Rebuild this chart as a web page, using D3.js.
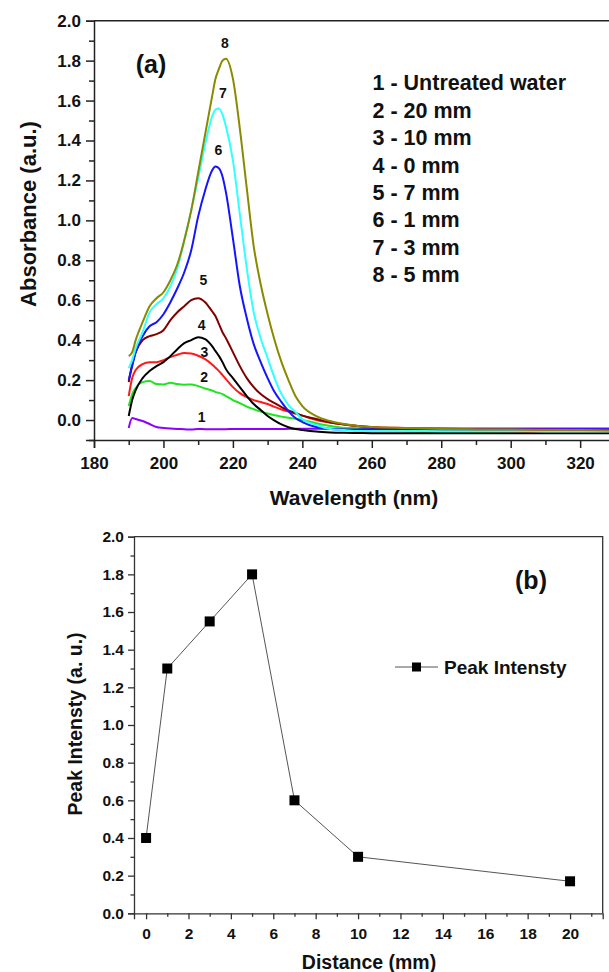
<!DOCTYPE html>
<html>
<head>
<meta charset="utf-8">
<script src="https://cdn.jsdelivr.net/npm/d3@7/dist/d3.min.js"></script>
<style>
  html, body { margin: 0; padding: 0; background: #fff; overflow: hidden; }
  svg { display: block; font-family: "Liberation Sans", Arial, sans-serif; }
</style>
</head>
<body>
<script>
// ---------- DATA: panel (a) ----------
const wavelength = [190,191,192,194,196,198,200,202,204,206,208,210,212,214,215,216,217,218,220,222,224,226,228,230,232,234,236,238,240,244,248,252,256,260,270,280,290,300,310,320,330,340];

const s1_untreated = [-0.04,0.01,0.005,-0.005,-0.02,-0.035,-0.04,-0.043,-0.045,-0.046,-0.048,-0.045,-0.046,-0.046,-0.046,-0.046,-0.046,-0.046,-0.045,-0.045,-0.045,-0.045,-0.045,-0.045,-0.045,-0.045,-0.044,-0.044,-0.044,-0.044,-0.044,-0.043,-0.043,-0.043,-0.043,-0.042,-0.042,-0.042,-0.042,-0.042,-0.042,-0.042];
const s2_20mm = [0.07,0.13,0.16,0.19,0.195,0.18,0.178,0.187,0.18,0.177,0.178,0.17,0.158,0.148,0.14,0.136,0.13,0.12,0.10,0.085,0.067,0.054,0.042,0.033,0.024,0.017,0.011,0.006,0.0,-0.016,-0.03,-0.04,-0.046,-0.05,-0.056,-0.06,-0.062,-0.062,-0.063,-0.063,-0.063,-0.063];
const s3_10mm = [0.12,0.21,0.25,0.28,0.29,0.29,0.30,0.315,0.327,0.336,0.333,0.322,0.305,0.278,0.262,0.245,0.225,0.205,0.165,0.135,0.115,0.10,0.09,0.08,0.066,0.053,0.042,0.032,0.022,0.0,-0.012,-0.022,-0.03,-0.035,-0.04,-0.043,-0.045,-0.047,-0.048,-0.05,-0.05,-0.05];
const s4_0mm = [0.02,0.10,0.15,0.21,0.245,0.27,0.29,0.32,0.355,0.385,0.40,0.415,0.405,0.37,0.345,0.32,0.29,0.255,0.21,0.165,0.12,0.08,0.05,0.02,-0.003,-0.022,-0.036,-0.045,-0.05,-0.058,-0.062,-0.064,-0.065,-0.066,-0.066,-0.066,-0.066,-0.066,-0.066,-0.066,-0.066,-0.066];
const s5_7mm = [0.19,0.28,0.34,0.40,0.42,0.43,0.45,0.50,0.54,0.57,0.60,0.61,0.59,0.545,0.52,0.48,0.44,0.41,0.34,0.27,0.21,0.165,0.13,0.105,0.085,0.065,0.048,0.035,0.022,0.005,-0.012,-0.022,-0.03,-0.037,-0.045,-0.05,-0.055,-0.058,-0.06,-0.06,-0.06,-0.06];
const s6_1mm = [0.20,0.27,0.34,0.42,0.47,0.49,0.53,0.59,0.66,0.74,0.85,1.02,1.15,1.25,1.27,1.26,1.22,1.14,0.91,0.67,0.51,0.38,0.29,0.21,0.14,0.09,0.045,0.01,-0.01,-0.035,-0.045,-0.048,-0.048,-0.048,-0.048,-0.048,-0.048,-0.048,-0.048,-0.048,-0.048,-0.048];
const s7_3mm = [0.26,0.30,0.36,0.44,0.54,0.58,0.61,0.67,0.76,0.90,1.05,1.21,1.38,1.52,1.555,1.56,1.53,1.47,1.30,1.03,0.76,0.54,0.41,0.31,0.21,0.13,0.075,0.04,0.005,-0.025,-0.045,-0.05,-0.055,-0.055,-0.055,-0.056,-0.056,-0.056,-0.057,-0.057,-0.058,-0.058];
const s8_5mm = [0.32,0.34,0.40,0.49,0.57,0.61,0.64,0.70,0.78,0.90,1.05,1.24,1.43,1.62,1.71,1.76,1.80,1.81,1.71,1.46,1.16,0.87,0.68,0.53,0.40,0.29,0.20,0.12,0.07,0.02,-0.005,-0.02,-0.03,-0.035,-0.04,-0.045,-0.047,-0.048,-0.05,-0.05,-0.052,-0.052];

const seriesNumbers = ["1","2","3","4","5","6","7","8"];
const seriesLegend = ["1 - Untreated water","2 - 20 mm","3 - 10 mm","4 - 0 mm","5 - 7 mm","6 - 1 mm","7 - 3 mm","8 - 5 mm"];
const seriesColors = ["#8c00ff","#1ee61e","#ff1a1a","#000000","#800000","#1414ff","#33ffff","#8a8a00"];
// curve-number label anchors (data coordinates)
const labelWl  = [211.0, 211.7, 211.8, 211.0, 211.5, 215.8, 217.1, 217.7];
const labelAbs = [0.017, 0.217, 0.342, 0.476, 0.701, 1.352, 1.636, 1.887];

const xTicksA = [180,200,220,240,260,280,300,320];
const yTicksA = [0.0,0.2,0.4,0.6,0.8,1.0,1.2,1.4,1.6,1.8,2.0];

// ---------- DATA: panel (b) ----------
const distance = [0,1,3,5,7,10,20];
const peakIntensity = [0.4,1.3,1.55,1.8,0.6,0.3,0.17];
const xTicksB = [0,2,4,6,8,10,12,14,16,18,20];
const yTicksB = [0.0,0.2,0.4,0.6,0.8,1.0,1.2,1.4,1.6,1.8,2.0];

const series = [s1_untreated,s2_20mm,s3_10mm,s4_0mm,s5_7mm,s6_1mm,s7_3mm,s8_5mm];

// ---------- DRAW ----------
const W = 609, H = 972;
const svg = d3.select("body").append("svg").attr("width", W).attr("height", H);
const FONT_BOLD = 700;

// ===== Panel (a) =====
const ax = d3.scaleLinear().domain([180, 340]).range([94, 649.6]);
const ay = d3.scaleLinear().domain([-0.1, 2.0]).range([440, 20.7]);

svg.append("clipPath").attr("id","clipA").append("rect")
  .attr("x", ax(180)).attr("y", ay(2.0)).attr("width", ax(340)-ax(180)).attr("height", ay(-0.1)-ay(2.0));

const gA = svg.append("g");
const line = d3.line().x((d,i)=>ax(wavelength[i])).y(d=>ay(d)).curve(d3.curveMonotoneX);
gA.append("g").attr("clip-path","url(#clipA)")
  .selectAll("path").data(series).join("path")
  .attr("d", d=>line(d))
  .attr("fill","none")
  .attr("stroke",(d,i)=>seriesColors[i])
  .attr("stroke-width",2);

// frame top line
gA.append("line").attr("x1", ax(180)).attr("x2", ax(340)).attr("y1", ay(2.0)).attr("y2", ay(2.0))
  .attr("stroke","#222").attr("stroke-width",1.5);

// axes
function styleAxis(g, fs) {
  g.select(".domain").attr("stroke","#222").attr("stroke-width",1.5);
  g.selectAll(".tick line").attr("stroke","#222").attr("stroke-width",1.5);
  g.selectAll(".tick text").attr("fill","#111").attr("font-size",fs).attr("font-weight",FONT_BOLD)
    .attr("font-family",'"Liberation Sans", Arial, sans-serif');
}
const xAxA = gA.append("g").attr("transform",`translate(0,${ay(-0.1)})`)
  .call(d3.axisBottom(ax).tickValues(xTicksA).tickSize(8).tickPadding(9).tickFormat(d3.format("d")));
styleAxis(xAxA, 17);
const xAxAm = gA.append("g").attr("transform",`translate(0,${ay(-0.1)})`)
  .call(d3.axisBottom(ax).tickValues(d3.range(190,340,20)).tickSize(5).tickFormat(""));
xAxAm.select(".domain").remove();
styleAxis(xAxAm, 17);

const yAxA = gA.append("g").attr("transform",`translate(${ax(180)},0)`)
  .call(d3.axisLeft(ay).tickValues(yTicksA).tickSize(8).tickPadding(5).tickFormat(d3.format(".1f")));
styleAxis(yAxA, 17);
const yAxAm = gA.append("g").attr("transform",`translate(${ax(180)},0)`)
  .call(d3.axisLeft(ay).tickValues(d3.range(0.1,2.0,0.2).concat([-0.1])).tickSize(5).tickFormat(""));
yAxAm.select(".domain").remove();
styleAxis(yAxAm, 17);

// axis titles
gA.append("text").attr("transform",`translate(28,214) rotate(-90)`)
  .attr("text-anchor","middle").attr("dominant-baseline","central")
  .attr("font-size",22).attr("font-weight",FONT_BOLD).attr("fill","#111").text("Absorbance (a.u.)");
gA.append("text").attr("x",354).attr("y",497)
  .attr("text-anchor","middle").attr("dominant-baseline","central")
  .attr("font-size",21).attr("font-weight",FONT_BOLD).attr("fill","#111").text("Wavelength (nm)");

// (a)
gA.append("text").attr("x",151).attr("y",64).attr("text-anchor","middle").attr("dominant-baseline","central")
  .attr("font-size",25).attr("font-weight",FONT_BOLD).attr("fill","#111").text("(a)");

// curve labels
gA.selectAll("text.cl").data(seriesNumbers).join("text").attr("class","cl")
  .attr("x",(d,i)=>ax(labelWl[i])).attr("y",(d,i)=>ay(labelAbs[i]))
  .attr("text-anchor","middle").attr("dominant-baseline","central")
  .attr("font-size",14).attr("font-weight",FONT_BOLD).attr("fill","#111").text(d=>d);

// legend
gA.selectAll("text.lg").data(seriesLegend).join("text").attr("class","lg")
  .attr("x",372.5).attr("y",(d,i)=>83.3 + i*27.4)
  .attr("dominant-baseline","central")
  .attr("font-size",21.5).attr("font-weight",FONT_BOLD).attr("fill","#111").text(d=>d);

// ===== Panel (b) =====
const bx = d3.scaleLinear().domain([-0.57, 21.54]).range([134, 602.7]);
const by = d3.scaleLinear().domain([0, 2.0]).range([913.3, 536.7]);
const gB = svg.append("g");

// frame top & right
gB.append("path")
  .attr("d",`M${bx(-0.57)},${by(2.0)} H${bx(21.54)} V${by(0)}`)
  .attr("fill","none").attr("stroke","#333").attr("stroke-width",1.3);

function styleAxisB(g, fs) {
  g.select(".domain").attr("stroke","#333").attr("stroke-width",1.3);
  g.selectAll(".tick line").attr("stroke","#333").attr("stroke-width",1.3);
  g.selectAll(".tick text").attr("fill","#111").attr("font-size",fs).attr("font-weight",FONT_BOLD)
    .attr("font-family",'"Liberation Sans", Arial, sans-serif');
}
const xAxB = gB.append("g").attr("transform",`translate(0,${by(0)})`)
  .call(d3.axisBottom(bx).tickValues(xTicksB).tickSize(6).tickPadding(9).tickFormat(d3.format("d")));
styleAxisB(xAxB, 15.5);
const xAxBm = gB.append("g").attr("transform",`translate(0,${by(0)})`)
  .call(d3.axisBottom(bx).tickValues(d3.range(1,22,2)).tickSize(3.5).tickFormat(""));
xAxBm.select(".domain").remove();
styleAxisB(xAxBm, 15.5);

const yAxB = gB.append("g").attr("transform",`translate(${bx(-0.57)},0)`)
  .call(d3.axisLeft(by).tickValues(yTicksB).tickSize(6).tickPadding(4).tickFormat(d3.format(".1f")));
styleAxisB(yAxB, 15.5);
const yAxBm = gB.append("g").attr("transform",`translate(${bx(-0.57)},0)`)
  .call(d3.axisLeft(by).tickValues(d3.range(0.1,2.0,0.2)).tickSize(3.5).tickFormat(""));
yAxBm.select(".domain").remove();
styleAxisB(yAxBm, 15.5);

const lineB = d3.line().x((d,i)=>bx(distance[i])).y(d=>by(d));
gB.append("path").attr("d", lineB(peakIntensity)).attr("fill","none").attr("stroke","#555").attr("stroke-width",1);
const MS = 10;
gB.selectAll("rect.pt").data(peakIntensity).join("rect").attr("class","pt")
  .attr("x",(d,i)=>bx(distance[i])-MS/2).attr("y",d=>by(d)-MS/2)
  .attr("width",MS).attr("height",MS).attr("fill","#000");

// titles
gB.append("text").attr("transform",`translate(75,724) rotate(-90)`)
  .attr("text-anchor","middle").attr("dominant-baseline","central")
  .attr("font-size",19.5).attr("font-weight",FONT_BOLD).attr("fill","#111").text("Peak Intensty (a. u.)");
gB.append("text").attr("x",369).attr("y",962)
  .attr("text-anchor","middle").attr("dominant-baseline","central")
  .attr("font-size",19.5).attr("font-weight",FONT_BOLD).attr("fill","#111").text("Distance (mm)");
gB.append("text").attr("x",531).attr("y",580).attr("text-anchor","middle").attr("dominant-baseline","central")
  .attr("font-size",25).attr("font-weight",FONT_BOLD).attr("fill","#111").text("(b)");

// legend (b)
gB.append("line").attr("x1",395).attr("x2",438).attr("y1",667).attr("y2",667).attr("stroke","#555").attr("stroke-width",1);
gB.append("rect").attr("x",416.5-4.5).attr("y",667-4.5).attr("width",9).attr("height",9).attr("fill","#000");
gB.append("text").attr("x",444).attr("y",667).attr("dominant-baseline","central")
  .attr("font-size",19).attr("font-weight",FONT_BOLD).attr("fill","#111").text("Peak Intensty");
</script>
</body>
</html>
